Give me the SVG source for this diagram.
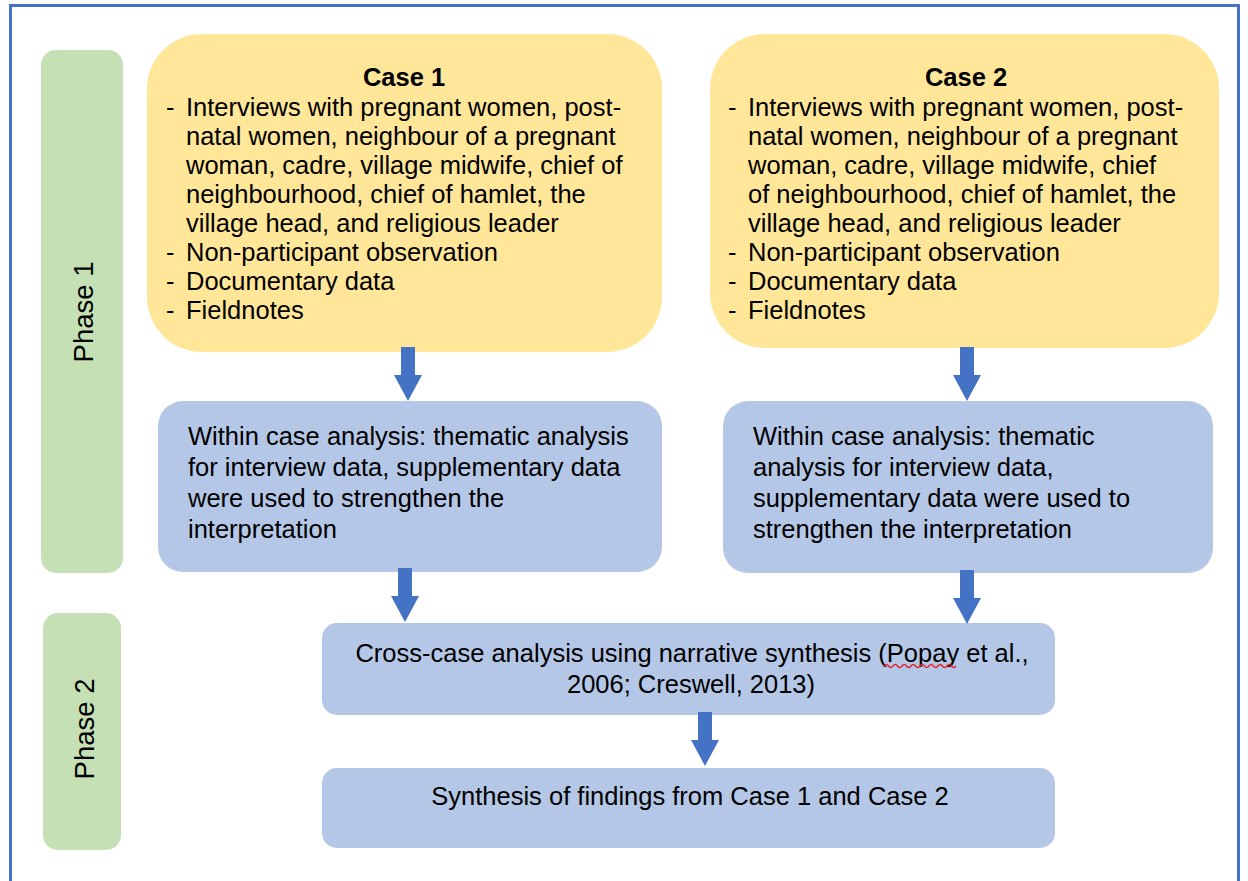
<svg xmlns="http://www.w3.org/2000/svg" width="1248" height="881" viewBox="0 0 1248 881">
  <style>
    text { font-family: "Liberation Sans", Arial, sans-serif; font-size: 25.5px; fill: #000; }
    .title { font-weight: bold; text-anchor: middle; }
    .mid { text-anchor: middle; }
    .label { font-size: 27.5px; text-anchor: middle; }
    .phase { fill: #C5E0B4; }
    .case { fill: #FFE699; }
    .step { fill: #B4C7E7; }
    .arrow { fill: #4472C4; }
  </style>
  <defs>
    <path id="down-arrow" d="M -7 0 H 7 V 28 H 14 L 0 54 L -14 28 H -7 Z"/>
  </defs>

  <rect x="10.5" y="5.5" width="1228" height="900" fill="#fff" stroke="#4472C4" stroke-width="3"/>

  <g id="phase1">
    <rect class="phase" x="41" y="50" width="82" height="523" rx="15"/>
    <text class="label" transform="translate(93 312) rotate(-90)">Phase 1</text>
  </g>
  <g id="phase2">
    <rect class="phase" x="43" y="613" width="78" height="237" rx="15"/>
    <text class="label" transform="translate(94 729) rotate(-90)">Phase 2</text>
  </g>

  <g id="case1">
    <rect class="case" x="147" y="34" width="515" height="318" rx="55"/>
    <text class="title" x="404" y="86">Case 1</text>
    <text x="166" y="116">-</text>
    <text x="186" y="116">Interviews with pregnant women, post-</text>
    <text x="186" y="145">natal women, neighbour of a pregnant</text>
    <text x="186" y="174">woman, cadre, village midwife, chief of</text>
    <text x="186" y="203">neighbourhood, chief of hamlet, the</text>
    <text x="186" y="232">village head, and religious leader</text>
    <text x="166" y="261">-</text>
    <text x="186" y="261">Non-participant observation</text>
    <text x="166" y="290">-</text>
    <text x="186" y="290">Documentary data</text>
    <text x="166" y="319">-</text>
    <text x="186" y="319">Fieldnotes</text>
  </g>

  <g id="case2">
    <rect class="case" x="710" y="34" width="509" height="314" rx="55"/>
    <text class="title" x="966" y="86">Case 2</text>
    <text x="728" y="116">-</text>
    <text x="748" y="116">Interviews with pregnant women, post-</text>
    <text x="748" y="145">natal women, neighbour of a pregnant</text>
    <text x="748" y="174">woman, cadre, village midwife, chief</text>
    <text x="748" y="203">of neighbourhood, chief of hamlet, the</text>
    <text x="748" y="232">village head, and religious leader</text>
    <text x="728" y="261">-</text>
    <text x="748" y="261">Non-participant observation</text>
    <text x="728" y="290">-</text>
    <text x="748" y="290">Documentary data</text>
    <text x="728" y="319">-</text>
    <text x="748" y="319">Fieldnotes</text>
  </g>

  <g id="within1">
    <rect class="step" x="158" y="401" width="504" height="171" rx="25"/>
    <text x="188" y="445">Within case analysis: thematic analysis</text>
    <text x="188" y="476">for interview data, supplementary data</text>
    <text x="188" y="507">were used to strengthen the</text>
    <text x="188" y="538">interpretation</text>
  </g>

  <g id="within2">
    <rect class="step" x="723" y="401" width="490" height="172" rx="25"/>
    <text x="753" y="445">Within case analysis: thematic</text>
    <text x="753" y="476">analysis for interview data,</text>
    <text x="753" y="507">supplementary data were used to</text>
    <text x="753" y="538">strengthen the interpretation</text>
  </g>

  <g id="crosscase">
    <rect class="step" x="322" y="623" width="733" height="92" rx="15"/>
    <text class="mid" x="692" y="662">Cross-case analysis using narrative synthesis (Popay et al.,</text>
    <text class="mid" x="691" y="693">2006; Creswell, 2013)</text>
    <!-- spell-check squiggle under the cited author name -->
    <path d="M 884 666 q 2.25 -3 4.5 0 t 4.5 0 t 4.5 0 t 4.5 0 t 4.5 0 t 4.5 0 t 4.5 0 t 4.5 0 t 4.5 0 t 4.5 0 t 4.5 0 t 4.5 0 t 4.5 0 t 4.5 0 t 4.5 0 t 4.5 0" fill="none" stroke="#E8242B" stroke-width="1.5"/>
  </g>

  <g id="synthesis">
    <rect class="step" x="322" y="768" width="733" height="80" rx="15"/>
    <text class="mid" x="690" y="805">Synthesis of findings from Case 1 and Case 2</text>
  </g>

  <g id="connectors" class="arrow">
    <use href="#down-arrow" x="408" y="347"/>
    <use href="#down-arrow" x="967" y="347"/>
    <use href="#down-arrow" x="405" y="568"/>
    <use href="#down-arrow" x="967" y="570"/>
    <use href="#down-arrow" x="705" y="712"/>
  </g>
</svg>
